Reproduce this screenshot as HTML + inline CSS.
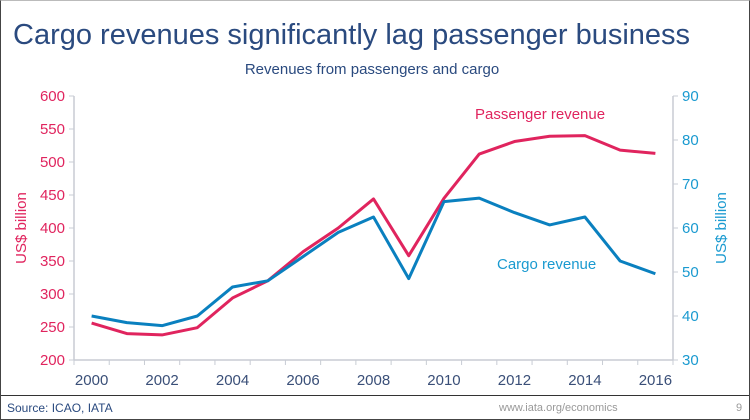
<!DOCTYPE html>
<html><head><meta charset="utf-8"><style>
html,body{margin:0;padding:0;background:#fff}
#wrap{position:relative;width:750px;height:420px;overflow:hidden;font-family:"Liberation Sans",sans-serif;box-sizing:border-box;border:1px solid #444;border-top:1px solid #bbb}
#title{position:absolute;left:12px;top:18px;white-space:nowrap;font-size:29px;color:#2a4a7f}
#sub{position:absolute;left:0;top:60px;width:742px;text-align:center;font-size:15px;color:#2a4a7f}
#foot{position:absolute;left:0;top:394px;width:750px;height:1px;background:#333}
#src{position:absolute;left:6px;top:400px;font-size:12px;color:#2a4a7f}
#web{position:absolute;left:498px;top:401px;font-size:11px;color:#999}
#pg{position:absolute;left:735px;top:401px;font-size:11px;color:#999}
svg{position:absolute;left:0;top:0}
</style></head><body>
<div id="wrap">
<div id="title">Cargo revenues significantly lag passenger business</div>
<div id="sub">Revenues from passengers and cargo</div>
<svg id="chart" width="750" height="420"></svg>
<div id="foot"></div>
<div id="src">Source: ICAO, IATA</div>
<div id="web">www.iata.org/economics</div>
<div id="pg">9</div>
</div>
<script>
const years = [2000,2001,2002,2003,2004,2005,2006,2007,2008,2009,2010,2011,2012,2013,2014,2015,2016];
const passenger = [256,240,238,249,294,320,364,400,444,358,445,512,531,539,540,518,513];
const cargo = [40,38.5,37.8,40,46.6,48,53.5,59,62.5,48.5,66,66.8,63.5,60.7,62.5,52.5,49.6];
const leftTicks = [200,250,300,350,400,450,500,550,600];
const rightTicks = [30,40,50,60,70,80,90];
const xLabels = [2000,2002,2004,2006,2008,2010,2012,2014,2016];

const NS="http://www.w3.org/2000/svg";
const svg=document.getElementById('chart');
const X0=73,X1=672,YT=95,YB=359;
const band=(X1-X0)/years.length;
const xs=y=>X0+band*(years.indexOf(y)+0.5);
const yl=v=>YB-(v-200)/400*(YB-YT);
const yr=v=>YB-(v-30)/60*(YB-YT);
function mk(t,a){const e=document.createElementNS(NS,t);for(const k in a)e.setAttribute(k,a[k]);svg.appendChild(e);return e;}
const ax='#c8ccd4';
let e;
e=mk('line',{x1:X0,y1:YT,x2:X0,y2:YB,stroke:ax,'stroke-width':1.5});

e=mk('line',{x1:X1,y1:YT,x2:X1,y2:YB,stroke:ax,'stroke-width':1.5});

e=mk('line',{x1:X0,y1:YB,x2:X1,y2:YB,stroke:ax,'stroke-width':1.5});

for(let i=0;i<=years.length;i++){e=mk('line',{x1:X0+band*i,y1:YB,x2:X0+band*i,y2:YB+5,stroke:ax,'stroke-width':1});
}
leftTicks.forEach(v=>{
 e=mk('line',{x1:X0-5,y1:yl(v),x2:X0,y2:yl(v),stroke:ax});
 
 e=mk('text',{x:X0-9,y:yl(v)+5,'text-anchor':'end','font-size':15,fill:'#e0245e','font-family':'Liberation Sans, sans-serif'});e.textContent=v;
 
});
rightTicks.forEach(v=>{
 e=mk('line',{x1:X1,y1:yr(v),x2:X1+5,y2:yr(v),stroke:ax});
 
 e=mk('text',{x:X1+9,y:yr(v)+5,'font-size':15,fill:'#1a9ad0','font-family':'Liberation Sans, sans-serif'});e.textContent=v;
 
});
xLabels.forEach(y=>{
 e=mk('text',{x:xs(y),y:YB+25,'text-anchor':'middle','font-size':15,fill:'#3a4f78','font-family':'Liberation Sans, sans-serif'});e.textContent=y;
 
});
e=mk('text',{x:0,y:0,'text-anchor':'middle','font-size':15,fill:'#e0245e','font-family':'Liberation Sans, sans-serif',transform:`translate(25,${(YT+YB)/2}) rotate(-90)`});e.textContent='US$ billion';

e=mk('text',{x:0,y:0,'text-anchor':'middle','font-size':15,fill:'#1a9ad0','font-family':'Liberation Sans, sans-serif',transform:`translate(725,${(YT+YB)/2}) rotate(-90)`});e.textContent='US$ billion';

e=mk('polyline',{points:passenger.map((v,i)=>xs(years[i])+','+yl(v)).join(' '),fill:'none',stroke:'#e0245e','stroke-width':3,'stroke-linejoin':'round'});

e=mk('polyline',{points:cargo.map((v,i)=>xs(years[i])+','+yr(v)).join(' '),fill:'none',stroke:'#0a80bf','stroke-width':3,'stroke-linejoin':'round'});

e=mk('text',{x:474,y:118,'font-size':15,fill:'#e0245e','font-family':'Liberation Sans, sans-serif'});e.textContent='Passenger revenue';

e=mk('text',{x:496,y:268,'font-size':15,fill:'#1a9ad0','font-family':'Liberation Sans, sans-serif'});e.textContent='Cargo revenue';

</script>
</body></html>
